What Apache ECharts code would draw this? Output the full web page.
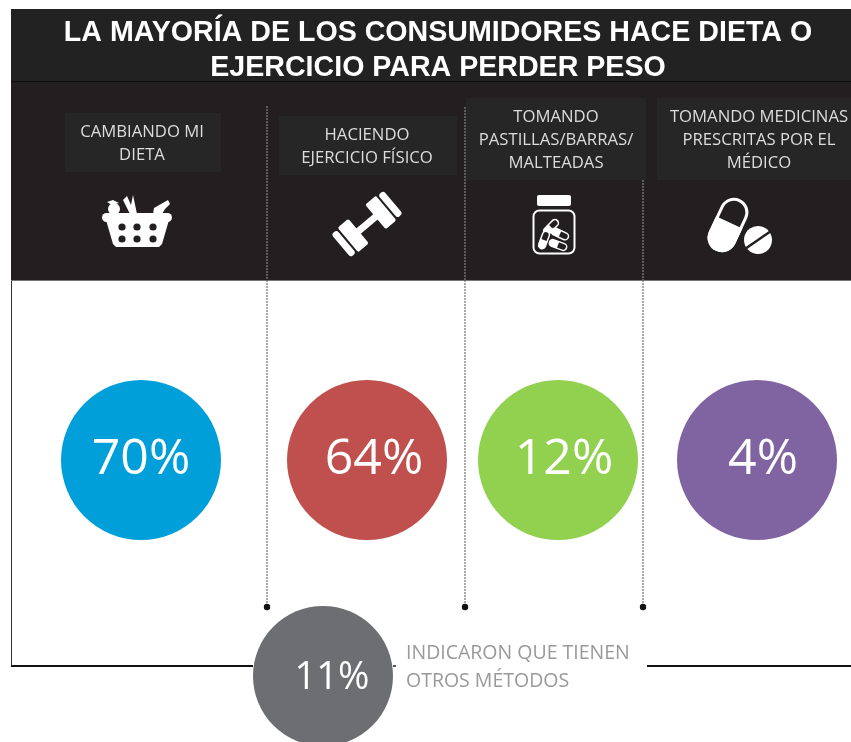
<!DOCTYPE html>
<html>
<head>
<meta charset="utf-8">
<style>
  html, body { margin: 0; padding: 0; background: #fff; overflow: hidden; }
  #main { width: 851px; height: 742px; }
</style>
<script src="https://cdn.jsdelivr.net/npm/echarts@6/dist/echarts.min.js"></script>
</head>
<body>
<div id="main"></div>
<script>
var titleLines = ['LA MAYORÍA DE LOS CONSUMIDORES HACE DIETA O', 'EJERCICIO PARA PERDER PESO'];
var categories = [
  'CAMBIANDO MI\nDIETA',
  'HACIENDO\nEJERCICIO FÍSICO',
  'TOMANDO\nPASTILLAS/BARRAS/\nMALTEADAS',
  'TOMANDO MEDICINAS\nPRESCRITAS POR EL\nMÉDICO'
];
var values = [70, 64, 12, 4];
var otherLabel = 'INDICARON QUE TIENEN\nOTROS MÉTODOS';
var otherValue = 11;

var colors = ['#009fda', '#c0504d', '#92d050', '#8064a2'];
var otherColor = '#6d6e71';
var panel = '#231f20';
var labelFont = '"Open Sans", sans-serif';

var myChart = echarts.init(document.getElementById('main'), null, { renderer: 'canvas' });

// one small grid per circle, the columns are not evenly spaced in the original
var slots = [
  { cx: 141, cy: 460, size: 160, fontSize: 50, dx: 0, dy: 0 },
  { cx: 367, cy: 460, size: 160, fontSize: 50, dx: 7, dy: 0 },
  { cx: 558, cy: 460, size: 160, fontSize: 50, dx: 6, dy: 0 },
  { cx: 757, cy: 460, size: 160, fontSize: 50, dx: 6, dy: 0 },
  { cx: 323, cy: 676, size: 140, fontSize: 38, dx: 9, dy: 2 }
];
var names = categories.concat([otherLabel]);
var vals = values.concat([otherValue]);
var cols = colors.concat([otherColor]);

var grids = [], xAxes = [], yAxes = [], series = [];
slots.forEach(function (s, i) {
  grids.push({ left: s.cx - 60, top: s.cy - 60, width: 120, height: 120 });
  xAxes.push({ gridIndex: i, type: 'category', data: [names[i]], show: false });
  yAxes.push({ gridIndex: i, type: 'category', data: ['%'], show: false });
  series.push({
    type: 'scatter',
    xAxisIndex: i,
    yAxisIndex: i,
    symbol: 'circle',
    symbolSize: s.size,
    clip: false,
    silent: true,
    itemStyle: { color: cols[i], opacity: 1 },
    label: {
      show: true,
      position: 'inside',
      offset: [s.dx, s.dy],
      color: '#fff',
      fontFamily: labelFont,
      fontSize: s.fontSize,
      formatter: function () { return vals[i] + '%'; }
    },
    data: [[names[i], '%']]
  });
});

function rrect(x, y, w, h, r, fill) {
  return { type: 'rect', shape: { x: x, y: y, width: w, height: h, r: r || 0 }, style: { fill: fill } };
}
function circ(x, y, r, fill) {
  return { type: 'circle', shape: { cx: x, cy: y, r: r }, style: { fill: fill } };
}
function poly(points, fill) {
  return { type: 'polygon', shape: { points: points }, style: { fill: fill } };
}
function rad(d) { return d * Math.PI / 180; }

// label boxes behind the column names
var boxes = [
  { x: 65, y: 113, w: 156, h: 59 },
  { x: 279, y: 116, w: 178, h: 59 },
  { x: 466, y: 98, w: 180, h: 82 },
  { x: 657, y: 98, w: 194, h: 82 }
];
var labelX = [142, 367, 556, 759];

var g = [];
g.push(rrect(11, 9, 840, 72, 0, '#222222'));
g.push(rrect(11, 81, 840, 200, 0, panel));
g.push(rrect(11, 81, 840, 1, 0, '#0c0c0c'));
g.push(rrect(11, 280, 840, 1, 0, '#777'));
g.push(rrect(11, 281, 1, 385, 0, '#333'));
g.push(rrect(11, 665, 242, 2, 0, '#111'));
g.push(rrect(647, 665, 204, 2, 0, '#111'));
g.push(rrect(393, 665, 3, 2, 0, '#555'));

titleLines.forEach(function (t, i) {
  g.push({
    type: 'text', x: 438, y: 33 + i * 35,
    style: { text: t, fill: '#fff', font: 'bold 28.6px "Liberation Sans", Arial, sans-serif', align: 'center', verticalAlign: 'middle' }
  });
});

boxes.forEach(function (b, i) {
  g.push(rrect(b.x, b.y, b.w, b.h, 0, '#262627'));
  g.push({
    type: 'text', x: labelX[i], y: b.y + b.h / 2 + 1,
    style: { text: categories[i], fill: '#dcdcdc', font: '16.7px ' + labelFont, lineHeight: 23, align: 'center', verticalAlign: 'middle' }
  });
});

// dashed leader lines
[[267, 106], [465, 107], [643, 180]].forEach(function (d) {
  g.push({
    type: 'line', shape: { x1: d[0], y1: d[1], x2: d[0], y2: 280 },
    style: { stroke: '#9a9a9a', lineWidth: 1, lineDash: [2, 1] }
  });
  g.push({
    type: 'line', shape: { x1: d[0], y1: 280, x2: d[0], y2: 605 },
    style: { stroke: '#555', lineWidth: 1, lineDash: [2, 1] }
  });
  g.push(circ(d[0], 607, 3.2, '#111'));
});

// basket
var W = '#ffffff';
g.push(poly([[106, 220], [169, 220], [162, 244], [159, 247], [116, 247], [113, 244]], W));
g.push(rrect(102, 213, 70, 9, 4.5, W));
g.push(circ(114, 209, 6, W));
g.push(poly([[107, 202], [113, 200], [119, 203], [112, 205]], W));
g.push(poly([[127, 196], [131, 205], [133, 195], [137, 214], [130, 214], [123, 200]], W));
g.push(poly([[153, 214], [154, 208], [161, 204], [168, 200], [170, 204], [165, 209], [162, 214]], W));
[122, 137, 153].forEach(function (x) {
  [227, 239].forEach(function (y) { g.push(circ(x, y, 3.6, panel)); });
});

// dumbbell
g.push({
  type: 'group', x: 367, y: 224, rotation: rad(40),
  children: [
    rrect(-15, -3.5, 30, 7, 0, W),
    rrect(-25, -16, 14, 32, 2, W),
    rrect(11, -16, 14, 32, 2, W),
    rrect(-34, -15, 7, 30, 3, W),
    rrect(27, -15, 7, 30, 3, W)
  ]
});

// jar
function capsule(x, y, deg) {
  return {
    type: 'group', x: x, y: y, rotation: rad(deg),
    children: [
      { type: 'rect', shape: { x: -9, y: -3.5, width: 18, height: 7, r: 3.5 }, style: { fill: panel, stroke: W, lineWidth: 1.5 } },
      { type: 'rect', shape: { x: -9, y: -3.5, width: 9, height: 7, r: [3.5, 0, 0, 3.5] }, style: { fill: W } }
    ]
  };
}
g.push(rrect(537, 195, 34, 11, 2, W));
g.push({ type: 'rect', shape: { x: 533.5, y: 210.5, width: 41, height: 43, r: 6 }, style: { fill: panel, stroke: W, lineWidth: 2 } });
g.push(capsule(551, 227, 45));
g.push(capsule(544, 240, 70));
g.push(capsule(560, 234, -25));
g.push(capsule(558, 245, -20));

// pill and tablet
g.push({
  type: 'group', x: 728, y: 225, rotation: rad(-25),
  children: [
    { type: 'rect', shape: { x: -13, y: -27, width: 26, height: 54, r: 13 }, style: { fill: panel, stroke: W, lineWidth: 3 } },
    { type: 'rect', shape: { x: -14.5, y: -3, width: 29, height: 31.5, r: [0, 0, 14.5, 14.5] }, style: { fill: W } }
  ]
});
g.push({
  type: 'group', x: 758, y: 240, rotation: rad(35),
  children: [
    { type: 'circle', shape: { cx: 0, cy: 0, r: 14 }, style: { fill: W } },
    rrect(-15, -1.2, 30, 2.4, 0, panel)
  ]
});

// side note next to the grey circle
g.push({
  type: 'text', x: 406, y: 667,
  style: { text: otherLabel, fill: '#999', font: '19.5px ' + labelFont, lineHeight: 28, align: 'left', verticalAlign: 'middle' }
});

var option = {
  animation: false,
  backgroundColor: '#fff',
  grid: grids,
  xAxis: xAxes,
  yAxis: yAxes,
  graphic: { elements: g },
  series: series
};
myChart.setOption(option);
</script>
</body>
</html>
